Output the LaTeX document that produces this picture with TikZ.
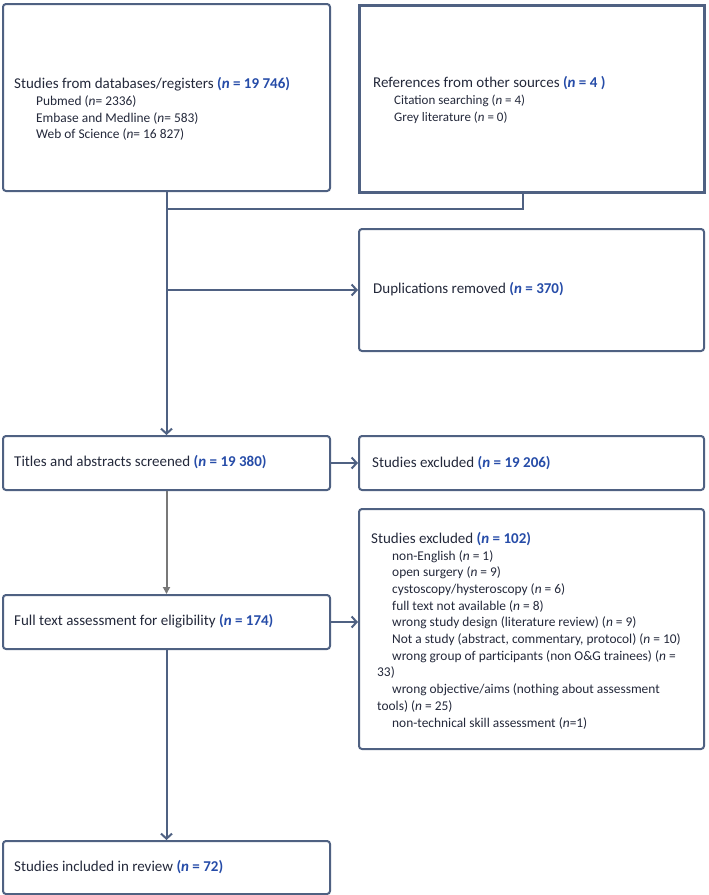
\documentclass[tikz,border=0pt]{standalone}
\usepackage{fontspec}
\setmainfont{Carlito}
\usetikzlibrary{arrows.meta}
\definecolor{edge}{RGB}{79,97,130}
\definecolor{txtc}{RGB}{35,40,58}
\definecolor{nblue}{RGB}{38,76,168}
\definecolor{garrow}{RGB}{120,120,120}
\newcommand{\nnum}[1]{\textcolor{nblue}{\textbf{(\textit{n} = #1)}}}
\newcommand{\fsA}{\fontsize{15}{16.7}\selectfont}
\newcommand{\fsB}{\fontsize{13.4}{16.7}\selectfont}
\newcommand{\fsC}{\fontsize{13}{17}\selectfont}
\begin{document}
\begin{tikzpicture}[x=1pt,y=-1pt,
  box/.style={draw=edge, line width=2pt, rounded corners=3pt, anchor=north west, inner sep=0pt},
  conn/.style={draw=edge, line width=2pt},
  arr/.style={conn, -{Straight Barb[length=5pt,width=11pt]}},
  garr/.style={draw=garrow, line width=2pt, -{Triangle[length=7pt,width=7pt]}},
  lbl/.style={anchor=west, text=txtc, font=\fsA, inner sep=0pt},
  mlbl/.style={anchor=north west, align=left, text=txtc, font=\fsA, inner sep=0pt}
]
\useasboundingbox (0,0) rectangle (709,895);

% boxes
\node[box, minimum width=327pt, minimum height=187pt] (A) at (2,3) {};
\node[box, rounded corners=0pt, line width=3pt, minimum width=345pt, minimum height=187pt] (B) at (358,4) {};
\node[box, minimum width=345pt, minimum height=122pt] (D) at (358,228) {};
\node[box, minimum width=327pt, minimum height=54pt] (T) at (2,435) {};
\node[box, minimum width=345pt, minimum height=54pt] (X) at (358,435) {};
\node[box, minimum width=327pt, minimum height=54pt] (F) at (2,594) {};
\node[box, minimum width=345pt, minimum height=240pt] (E) at (358,508) {};
\node[box, minimum width=327pt, minimum height=53pt] (I) at (2,840) {};

% texts
\node[mlbl] (Atext) at (14,77.5) {Studies from databases/registers \nnum{19 746}\\
  \fsB\hspace*{22pt}Pubmed (\textit{n}= 2336)\\
  \fsB\hspace*{22pt}Embase and Medline (\textit{n}= 583)\\
  \fsB\hspace*{22pt}Web of Science (\textit{n}= 16 827)};
\node[mlbl] (Btext) at (373,76.5) {References from other sources \textcolor{nblue}{\textbf{(\textit{n} = 4 )}}\\
  \fsC\hspace*{21pt}Citation searching (\textit{n} = 4)\\
  \fsC\hspace*{21pt}Grey literature (\textit{n} = 0)};
\node[lbl] (Dtext) at (373,289) {Duplications removed \nnum{370}};
\node[lbl] (Ttext) at (14,462) {Titles and abstracts screened \nnum{19 380}};
\node[lbl] (Xtext) at (372,463) {Studies excluded \nnum{19 206}};
\node[lbl] (Ftext) at (14,621) {Full text assessment for eligibility \nnum{174}};
\node[lbl] (Itext) at (14,867) {Studies included in review \nnum{72}};
\node[mlbl] (Etext) at (371,532) {Studies excluded \nnum{102}\\
  \fsB\hspace*{21pt}non-English (\textit{n} = 1)\\
  \fsB\hspace*{21pt}open surgery (\textit{n} = 9)\\
  \fsB\hspace*{21pt}cystoscopy/hysteroscopy (\textit{n} = 6)\\
  \fsB\hspace*{21pt}full text not available (\textit{n} = 8)\\
  \fsB\hspace*{21pt}wrong study design (literature review) (\textit{n} = 9)\\
  \fsB\hspace*{21pt}Not a study (abstract, commentary, protocol) (\textit{n} = 10)\\
  \fsB\hspace*{21pt}wrong group of participants (non O\&G trainees) (\textit{n} =\\
  \fsB\hspace*{6pt}33)\\
  \fsB\hspace*{21pt}wrong objective/aims (nothing about assessment\\
  \fsB\hspace*{6pt}tools) (\textit{n} = 25)\\
  \fsB\hspace*{21pt}non-technical skill assessment (\textit{n}=1)};

% connectors
\coordinate (aj) at (165.5,209);
\coordinate (bj) at (523,209);
\draw[conn] (B.south -| bj) -- (bj) -- (aj);
\draw[arr] (A.south) -- (T.north);
\draw[arr] (A.south |- D.west) -- (D.west);
\draw[arr] (T.east) -- (X.west);
\draw[garr] (T.south) -- (F.north);
\draw[arr] (F.east) -- (F.east -| E.west);
\draw[arr] (F.south) -- (I.north);
\end{tikzpicture}
\end{document}
